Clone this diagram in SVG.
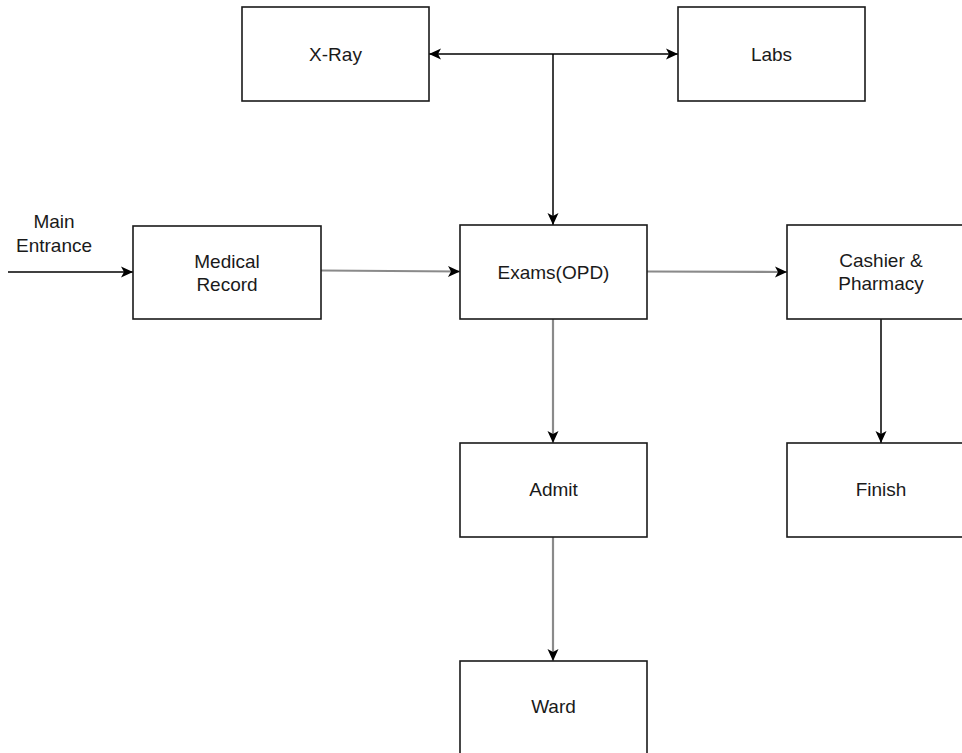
<svg xmlns="http://www.w3.org/2000/svg" width="962" height="753" viewBox="0 0 962 753">
<defs>
<style>
.box{fill:#ffffff;stroke:#1a1a1a;stroke-width:1.6}
.t{font-family:"Liberation Sans",Arial,sans-serif;font-size:19px;fill:#1a1a1a;text-anchor:middle}
.k{fill:none;stroke:#000000;stroke-width:1.5}
.g{fill:none;stroke:#8a8a8a;stroke-width:2.2}
</style>
<marker id="ah" markerWidth="14" markerHeight="14" viewBox="0 0 14 14" refX="13" refY="7" orient="auto" markerUnits="userSpaceOnUse">
<path d="M1,1.5 L13,7 L1,12.5 L4,7 Z" fill="#000000"/>
</marker>
<marker id="as" markerWidth="14" markerHeight="14" viewBox="0 0 14 14" refX="1" refY="7" orient="auto" markerUnits="userSpaceOnUse">
<path d="M13,1.5 L1,7 L13,12.5 L10,7 Z" fill="#000000"/>
</marker>
</defs>
<rect width="962" height="753" fill="#ffffff"/>
<g id="connectors">
<line class="k" x1="8" y1="272" x2="133" y2="272" marker-end="url(#ah)"/>
<line class="g" x1="321" y1="270.5" x2="460" y2="271.5" marker-end="url(#ah)"/>
<line class="g" x1="647" y1="271.5" x2="787" y2="272" marker-end="url(#ah)"/>
<line class="g" x1="553" y1="319" x2="553" y2="443" marker-end="url(#ah)"/>
<line class="g" x1="553" y1="537" x2="553" y2="661" marker-end="url(#ah)"/>
<line class="k" x1="881" y1="319" x2="881" y2="443" marker-end="url(#ah)"/>
<line class="k" x1="429" y1="54" x2="678" y2="54" marker-start="url(#as)" marker-end="url(#ah)"/>
<line class="k" x1="553" y1="54" x2="553" y2="225" marker-end="url(#ah)"/>
</g>
<g id="main-entrance">
<text class="t" x="54" y="228">Main</text>
<text class="t" x="54" y="252">Entrance</text>
</g>
<g id="xray">
<rect class="box" x="242" y="7" width="187" height="94"/>
<text class="t" x="335.5" y="61">X-Ray</text>
</g>
<g id="labs">
<rect class="box" x="678" y="7" width="187" height="94"/>
<text class="t" x="771.5" y="61">Labs</text>
</g>
<g id="medical-record">
<rect class="box" x="133" y="226" width="188" height="93"/>
<text class="t" x="227" y="268">Medical</text>
<text class="t" x="227" y="291">Record</text>
</g>
<g id="exams">
<rect class="box" x="460" y="225" width="187" height="94"/>
<text class="t" x="553.5" y="279">Exams(OPD)</text>
</g>
<g id="cashier">
<rect class="box" x="787" y="225" width="188" height="94"/>
<text class="t" x="881" y="267">Cashier &amp;</text>
<text class="t" x="881" y="290">Pharmacy</text>
</g>
<g id="admit">
<rect class="box" x="460" y="443" width="187" height="94"/>
<text class="t" x="553.5" y="496">Admit</text>
</g>
<g id="finish">
<rect class="box" x="787" y="443" width="188" height="94"/>
<text class="t" x="881" y="496">Finish</text>
</g>
<g id="ward">
<rect class="box" x="460" y="661" width="187" height="110"/>
<text class="t" x="553.5" y="713">Ward</text>
</g>
</svg>
